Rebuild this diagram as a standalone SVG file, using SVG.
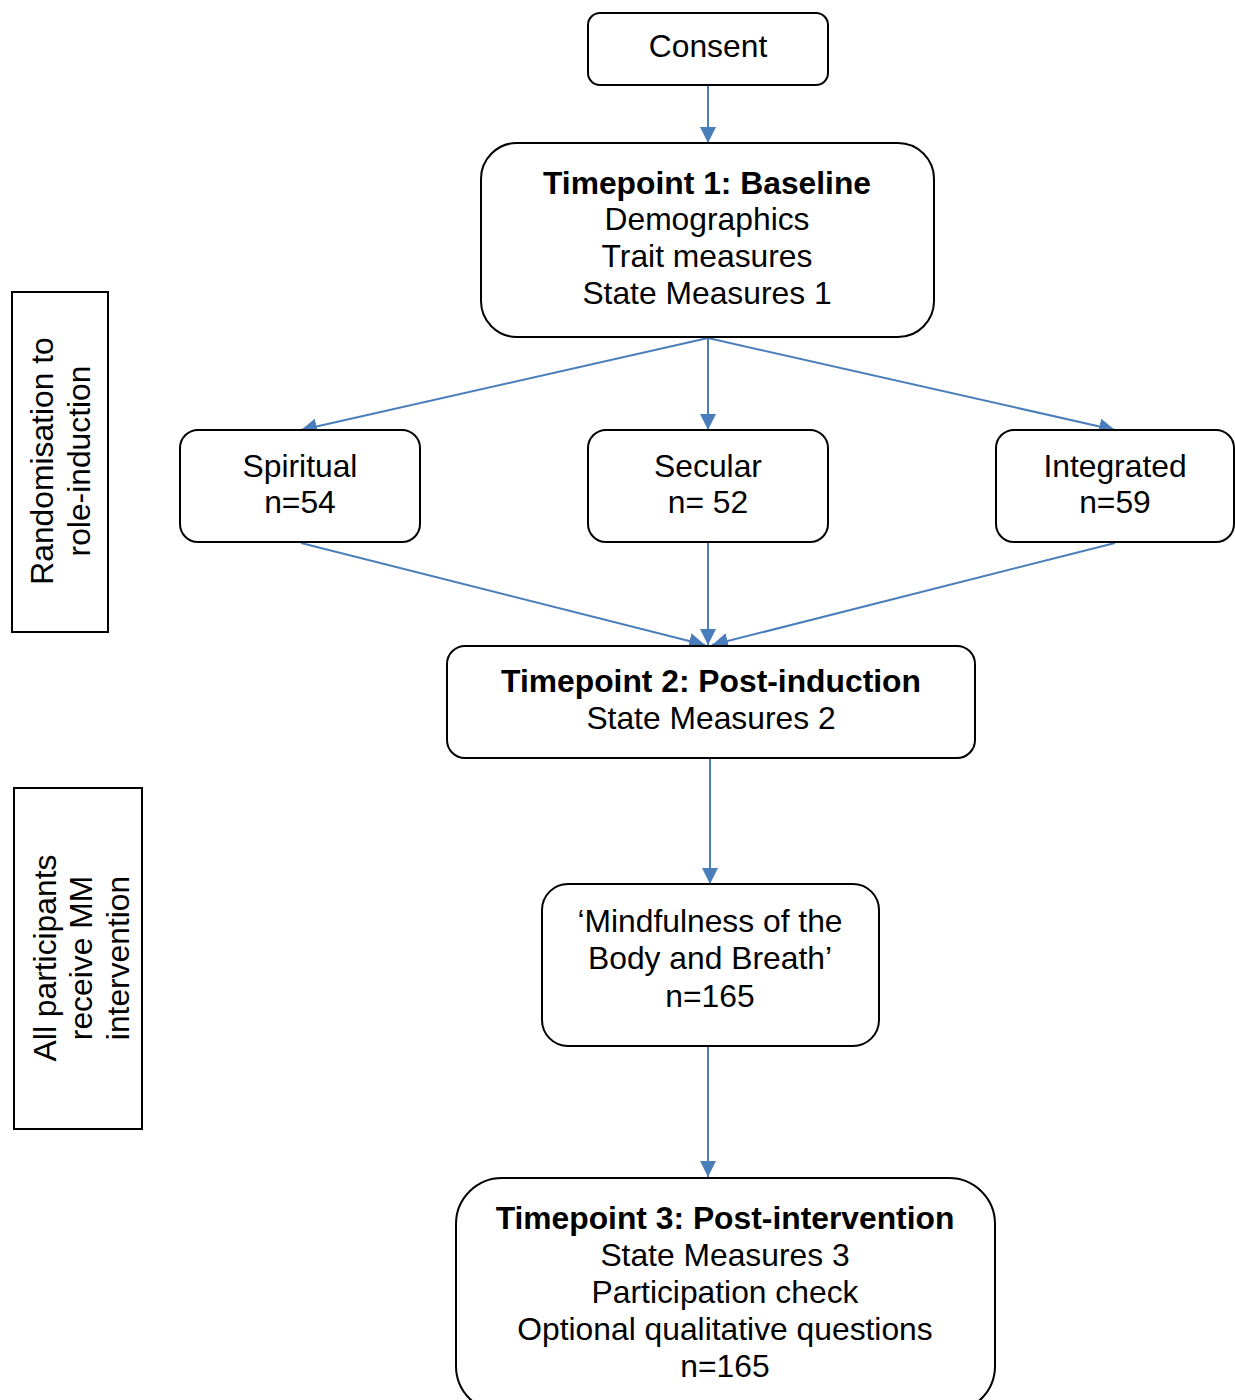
<svg xmlns="http://www.w3.org/2000/svg" width="1235" height="1400" viewBox="0 0 1235 1400">
<style>
.box{fill:#fff;stroke:#000;stroke-width:2}
.t{font-family:"Liberation Sans",Arial,sans-serif;font-size:31.8px;fill:#000;text-anchor:middle}
.b{font-weight:bold}
.c{stroke:#4A7EBB;stroke-width:2;fill:none;marker-end:url(#ah)}
</style>
<defs>
<marker id="ah" markerUnits="userSpaceOnUse" markerWidth="16" markerHeight="16" viewBox="0 0 16 16" refX="16" refY="8" orient="auto">
<path d="M0,0 L16,8 L0,16 z" fill="#4A7EBB"/>
</marker>
</defs>
<rect width="1235" height="1400" fill="#fff"/>
<g id="connectors">
<line class="c" x1="708" y1="86" x2="708" y2="143"/>
<line class="c" x1="708" y1="338" x2="301" y2="430"/>
<line class="c" x1="708" y1="338" x2="708" y2="430"/>
<line class="c" x1="708" y1="338" x2="1115" y2="430"/>
<line class="c" x1="301" y1="543" x2="705" y2="645"/>
<line class="c" x1="708" y1="543" x2="708" y2="645"/>
<line class="c" x1="1115" y1="543" x2="712" y2="645"/>
<line class="c" x1="710" y1="759" x2="710" y2="884"/>
<line class="c" x1="708" y1="1047" x2="708" y2="1177"/>
</g>
<g id="consent">
<rect class="box" x="588" y="13" width="240" height="72" rx="12"/>
<text class="t" x="708" y="57">Consent</text>
</g>
<g id="tp1">
<rect class="box" x="481" y="143" width="453" height="194" rx="36"/>
<text class="t b" x="707" y="194">Timepoint 1: Baseline</text>
<text class="t" x="707" y="230">Demographics</text>
<text class="t" x="707" y="267">Trait measures</text>
<text class="t" x="707" y="304">State Measures 1</text>
</g>
<g id="spiritual">
<rect class="box" x="180" y="430" width="240" height="112" rx="18"/>
<text class="t" x="300" y="477">Spiritual</text>
<text class="t" x="300" y="513">n=54</text>
</g>
<g id="secular">
<rect class="box" x="588" y="430" width="240" height="112" rx="18"/>
<text class="t" x="708" y="477">Secular</text>
<text class="t" x="708" y="513">n= 52</text>
</g>
<g id="integrated">
<rect class="box" x="996" y="430" width="238" height="112" rx="18"/>
<text class="t" x="1115" y="477">Integrated</text>
<text class="t" x="1115" y="513">n=59</text>
</g>
<g id="tp2">
<rect class="box" x="447" y="646" width="528" height="112" rx="18"/>
<text class="t b" x="711" y="692">Timepoint 2: Post-induction</text>
<text class="t" x="711" y="729">State Measures 2</text>
</g>
<g id="mindfulness">
<rect class="box" x="542" y="884" width="337" height="162" rx="26"/>
<text class="t" x="710" y="932">‘Mindfulness of the</text>
<text class="t" x="710" y="969">Body and Breath’</text>
<text class="t" x="710" y="1007">n=165</text>
</g>
<g id="tp3">
<rect class="box" x="456" y="1178" width="539" height="234" rx="46"/>
<text class="t b" x="725" y="1229">Timepoint 3: Post-intervention</text>
<text class="t" x="725" y="1266">State Measures 3</text>
<text class="t" x="725" y="1303">Participation check</text>
<text class="t" x="725" y="1340">Optional qualitative questions</text>
<text class="t" x="725" y="1377">n=165</text>
</g>
<g id="randomisation">
<rect class="box" x="12" y="292" width="96" height="340"/>
<text class="t" transform="translate(53,461) rotate(-90)">Randomisation to</text>
<text class="t" transform="translate(90,461) rotate(-90)">role-induction</text>
</g>
<g id="allparticipants">
<rect class="box" x="14" y="788" width="128" height="341"/>
<text class="t" transform="translate(56,958) rotate(-90)">All participants</text>
<text class="t" transform="translate(92,958) rotate(-90)">receive MM</text>
<text class="t" transform="translate(129,958) rotate(-90)">intervention</text>
</g>
</svg>
